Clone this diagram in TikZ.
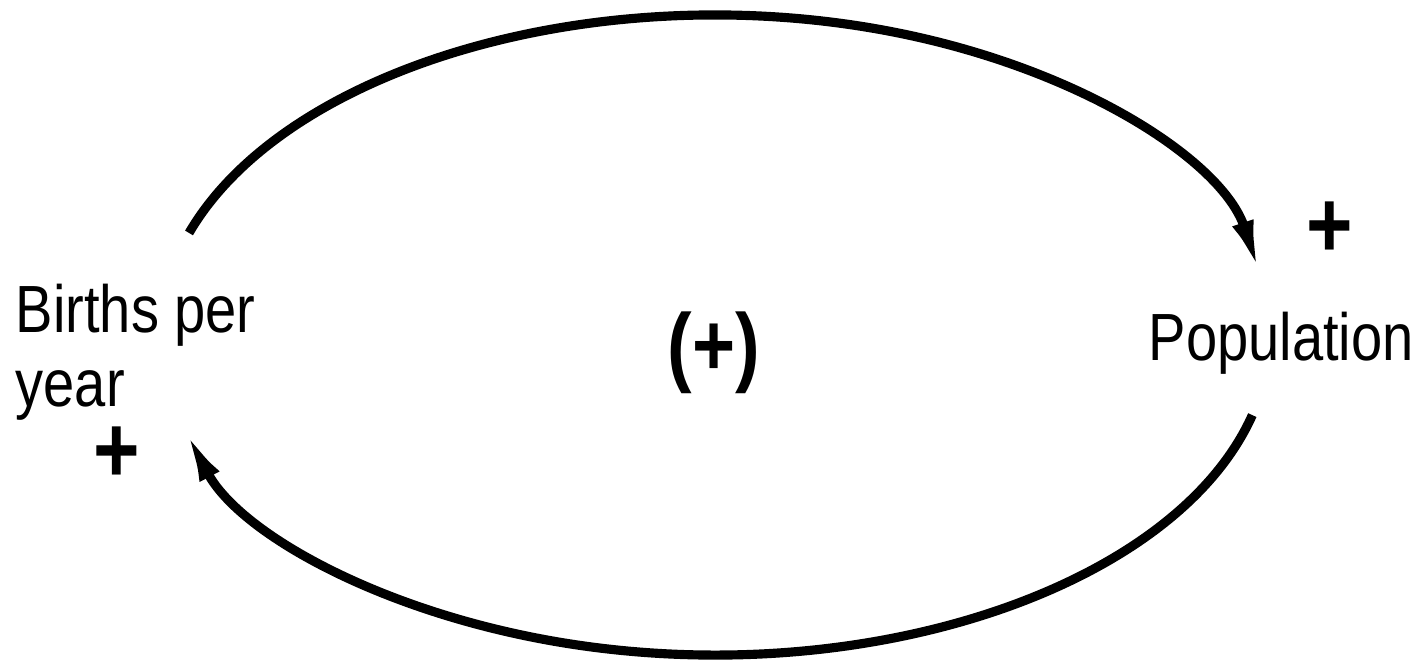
\documentclass[tikz,border=0pt]{standalone}
\usepackage{fontspec}
\setmainfont{Liberation Sans}[FakeStretch=0.84]
\usetikzlibrary{arrows.meta,calc}

\begin{document}
\begin{tikzpicture}[
	label text/.style={font=\fontsize{19}{21.3}\selectfont, inner sep=0},
	sign/.style={font=\fontsize{27}{27}\selectfont\bfseries, inner sep=0},
	link/.style={line width=2.6pt, -{Latex[length=5.5mm,width=2.2mm]}}]
	\useasboundingbox (0,0) rectangle (14.27,6.63);
	\coordinate (centre) at (7.15,3.28);
	\node [label text, anchor=north west, align=left] (births) at (0.15,3.80) {Births per\\year};
	\node [label text, anchor=base west] (pop) at (11.48,3.03) {Population};
	\node [sign, font=\fontsize{25}{25}\selectfont\bfseries] (loop) at (7.14,3.10) {(+)};
	\node [sign] (births sign) at (1.17,2.08) {+};
	\node [sign] (pop sign) at (13.30,4.33) {+};
	% ends of the two links, on the loop ellipse
	\coordinate (births out) at ($(centre)+(161.4:5.55cm and 3.2cm)$);
	\coordinate (pop out) at ($(centre)+(-14.5:5.55cm and 3.2cm)$);
	\draw [link] (births out) arc [start angle=161.4, end angle=10.8, x radius=5.55, y radius=3.2];
	\draw [link] (pop out) arc [start angle=-14.5, end angle=-163.1, x radius=5.55, y radius=3.2];
\end{tikzpicture}
\end{document}
